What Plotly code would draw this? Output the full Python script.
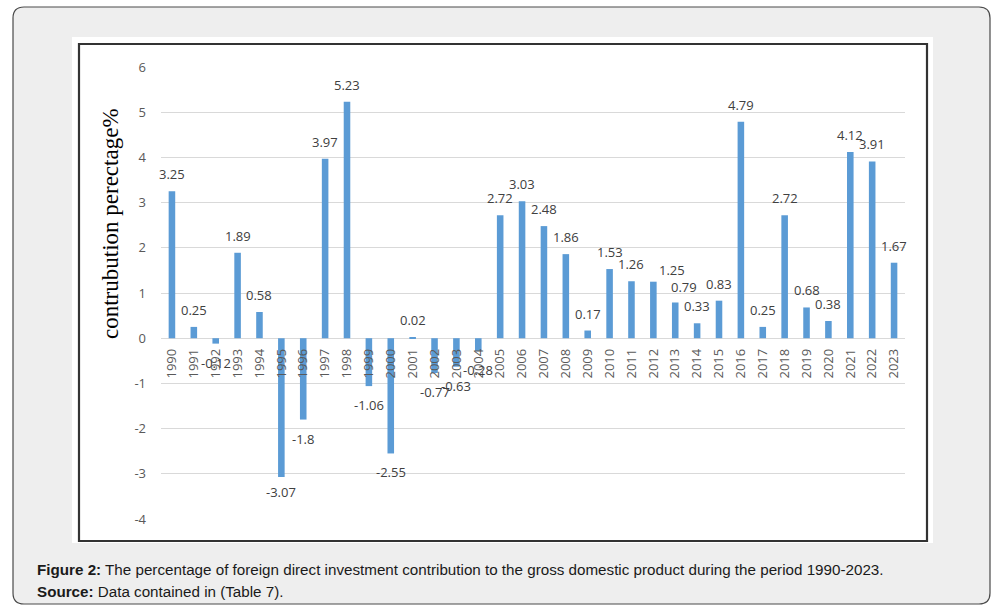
import plotly.graph_objects as go

years = list(range(1990, 2024))
values = [3.25, 0.25, -0.12, 1.89, 0.58, -3.07, -1.8, 3.97, 5.23, -1.06,
          -2.55, 0.02, -0.77, -0.63, -0.28, 2.72, 3.03, 2.48, 1.86, 0.17,
          1.53, 1.26, 1.25, 0.79, 0.33, 0.83, 4.79, 0.25, 2.72, 0.68,
          0.38, 4.12, 3.91, 1.67]
y_ticks = [6, 5, 4, 3, 2, 1, 0, -1, -2, -3, -4]
y_title = "contrubution perectage%"
caption_bold = "Figure 2:"
caption_text = " The percentage of foreign direct investment contribution to the gross domestic product during the period 1990-2023."
source_bold = "Source:"
source_text = " Data contained in (Table 7)."

# label nudges in pixels (style only), as in the reference
label_nudge = {2012: (19, -5), 2013: (9, -2), 1995: (0, 4)}

W, H = 1004, 611
L, R, T, B = 161, 99, 67, 92
PW, PH = W - L - R, H - T - B


def px(x):
    return (x - L) / PW


def py(y):
    return (H - B - y) / PH


fig = go.Figure()
fig.add_trace(go.Bar(x=years, y=values, width=0.3,
                     marker=dict(color="#5b9bd5", line=dict(width=0)),
                     hoverinfo="x+y"))

annotations = []
for yr, v in zip(years, values):
    dx, dy = label_nudge.get(yr, (0, 0))
    annotations.append(dict(x=yr, y=v, xref="x", yref="y", text=f"{v:g}",
                            showarrow=False,
                            xshift=dx, yshift=(17 if v >= 0 else -19) + dy,
                            xanchor="center", yanchor="middle",
                            font=dict(family="Open Sans", size=13, color="#404040")))

annotations.append(dict(x=px(110), y=py(224), xref="paper", yref="paper",
                        xanchor="center", yanchor="middle",
                        text=y_title, textangle=-90, showarrow=False,
                        font=dict(family="Liberation Serif", size=23, color="#000000")))
annotations.append(dict(x=px(35), y=py(569), xref="paper", yref="paper",
                        xanchor="left", yanchor="middle", showarrow=False,
                        text=f"<b>{caption_bold}</b>{caption_text}",
                        font=dict(family="Liberation Sans", size=15.2, color="#1a1a1a")))
annotations.append(dict(x=px(35), y=py(591), xref="paper", yref="paper",
                        xanchor="left", yanchor="middle", showarrow=False,
                        text=f"<b>{source_bold}</b>{source_text}",
                        font=dict(family="Liberation Sans", size=15.2, color="#1a1a1a")))


def rounded_path(x0, y0, x1, y1, r):
    pts = [
        ("M", [(x0 + r, y0)]),
        ("L", [(x1 - r, y0)]), ("Q", [(x1, y0), (x1, y0 + r)]),
        ("L", [(x1, y1 - r)]), ("Q", [(x1, y1), (x1 - r, y1)]),
        ("L", [(x0 + r, y1)]), ("Q", [(x0, y1), (x0, y1 - r)]),
        ("L", [(x0, y0 + r)]), ("Q", [(x0, y0), (x0 + r, y0)]),
    ]
    s = ""
    for cmd, ps in pts:
        s += cmd + " " + " ".join(f"{px(a):.5f},{py(b):.5f}" for a, b in ps) + " "
    return s + "Z"


shapes = [
    dict(type="path", xref="paper", yref="paper", layer="below",
         path=rounded_path(13, 7, 990, 604, 11),
         fillcolor="#eeeeee", line=dict(color="#4a4a4a", width=1.2)),
    dict(type="rect", xref="paper", yref="paper", layer="below",
         x0=px(72), x1=px(933), y0=py(543), y1=py(37),
         fillcolor="#ffffff", line=dict(width=0)),
    dict(type="rect", xref="paper", yref="paper", layer="below",
         x0=px(79), x1=px(927), y0=py(541), y1=py(44),
         fillcolor="#ffffff", line=dict(color="#333333", width=2.2)),
]

fig.update_layout(
    width=W, height=H,
    margin=dict(l=L, r=R, t=T, b=B, pad=0),
    paper_bgcolor="#ffffff",
    plot_bgcolor="rgba(0,0,0,0)",
    showlegend=False,
    annotations=annotations,
    shapes=shapes,
    xaxis=dict(type="linear", range=[years[0] - 0.5, years[-1] + 0.5],
               tickvals=years, ticktext=[str(y) for y in years],
               anchor="free", position=0.4, side="bottom",
               tickangle=-90, showgrid=False, zeroline=False, showline=False,
               ticks="", ticklabelstandoff=7,
               tickfont=dict(family="Open Sans", size=13, color="#595959")),
    yaxis=dict(range=[-4, 6], tickvals=y_ticks, ticktext=[str(t) for t in y_ticks],
               showgrid=True,
               gridcolor="#d9d9d9", gridwidth=1, zeroline=True,
               zerolinecolor="#d9d9d9", zerolinewidth=1, showline=False,
               ticks="", ticklabelstandoff=14,
               tickfont=dict(family="Open Sans", size=13, color="#595959")),
)

fig.write_html("out.html")
